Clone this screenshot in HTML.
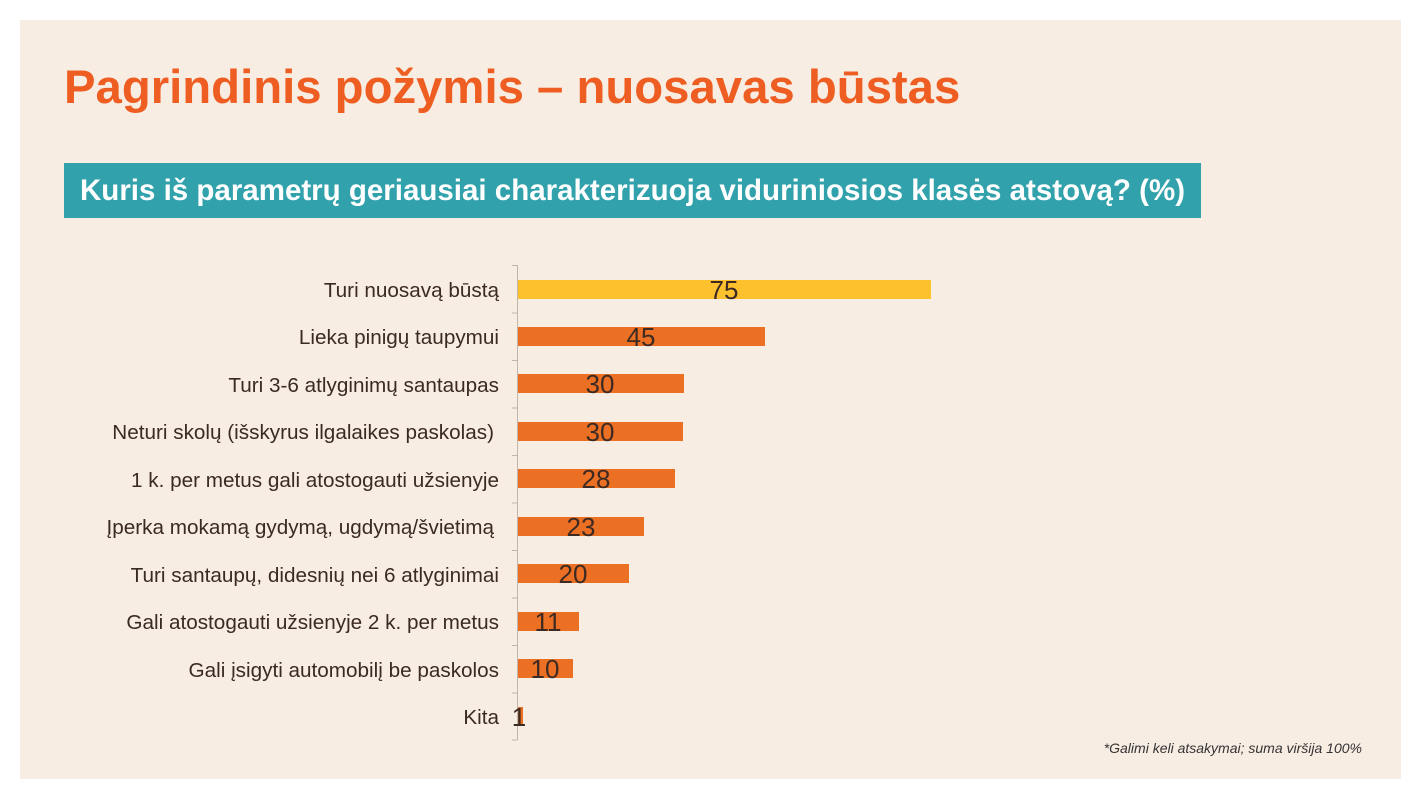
<!DOCTYPE html>
<html><head><meta charset="utf-8"><style>
body{margin:0;width:1421px;height:800px;background:#fff;font-family:"Liberation Sans",Arial,sans-serif;position:relative;overflow:hidden}
.panel{position:absolute;left:20px;top:20px;width:1381px;height:759px;background:#f8ede3}
.title{position:absolute;left:64px;top:60px;font-size:47.3px;font-weight:bold;color:#ee5e22;white-space:nowrap}
.banner{position:absolute;left:64px;top:163px;width:1137px;height:55px;background:#31a2ab;color:#fff;font-weight:bold;font-size:29.5px;line-height:55px;box-sizing:border-box;padding-left:16px;white-space:nowrap}
.note{position:absolute;right:59px;top:740px;font-size:14px;font-style:italic;color:#333}
</style></head><body>
<div class="panel"></div>
<div class="title">Pagrindinis požymis – nuosavas būstas</div>
<div class="banner">Kuris iš parametrų geriausiai charakterizuoja viduriniosios klasės atstovą? (%)</div>
<svg width="1421" height="800" style="position:absolute;left:0;top:0" font-family="Liberation Sans, Arial, sans-serif">
<g stroke="#bfb5ac" stroke-width="1">
<line x1="517.5" y1="265" x2="517.5" y2="740"/>
<line x1="512" y1="265.5" x2="517" y2="265.5"/><line x1="512" y1="313" x2="517" y2="313"/><line x1="512" y1="360.5" x2="517" y2="360.5"/><line x1="512" y1="408" x2="517" y2="408"/><line x1="512" y1="455.5" x2="517" y2="455.5"/><line x1="512" y1="503" x2="517" y2="503"/><line x1="512" y1="550.5" x2="517" y2="550.5"/><line x1="512" y1="598" x2="517" y2="598"/><line x1="512" y1="645.5" x2="517" y2="645.5"/><line x1="512" y1="693" x2="517" y2="693"/><line x1="512" y1="740" x2="517" y2="740"/>
</g>
<g font-size="20.7" fill="#3a2a22" text-anchor="end">
<text x="499" y="297">Turi nuosavą būstą</text>
<text x="499" y="344">Lieka pinigų taupymui</text>
<text x="499" y="392">Turi 3-6 atlyginimų santaupas</text>
<text x="494" y="439">Neturi skolų (išskyrus ilgalaikes paskolas)</text>
<text x="499" y="487">1 k. per metus gali atostogauti užsienyje</text>
<text x="494" y="534">Įperka mokamą gydymą, ugdymą/švietimą</text>
<text x="499" y="582">Turi santaupų, didesnių nei 6 atlyginimai</text>
<text x="499" y="629">Gali atostogauti užsienyje 2 k. per metus</text>
<text x="499" y="677">Gali įsigyti automobilį be paskolos</text>
<text x="499" y="724">Kita</text>
</g>
<rect x="518" y="280" width="413" height="19" fill="#fdc12e"/>
<g fill="#ec7024">
<rect x="518" y="327" width="247" height="19"/>
<rect x="518" y="374" width="166" height="19"/>
<rect x="518" y="422" width="165" height="19"/>
<rect x="518" y="469" width="157" height="19"/>
<rect x="518" y="517" width="126" height="19"/>
<rect x="518" y="564" width="111" height="19"/>
<rect x="518" y="612" width="61" height="19"/>
<rect x="518" y="659" width="55" height="19"/>
<rect x="518" y="707" width="5" height="19"/>
</g>
<g font-size="26" fill="#3d2a22" text-anchor="middle">
<text x="724" y="299">75</text>
<text x="641" y="346">45</text>
<text x="600" y="393">30</text>
<text x="600" y="441">30</text>
<text x="596" y="488">28</text>
<text x="581" y="536">23</text>
<text x="573" y="583">20</text>
<text x="548" y="631">11</text>
<text x="545" y="678">10</text>
<text x="519" y="726">1</text>
</g>
</svg>
<div class="note">*Galimi keli atsakymai; suma viršija 100%</div>
</body></html>
